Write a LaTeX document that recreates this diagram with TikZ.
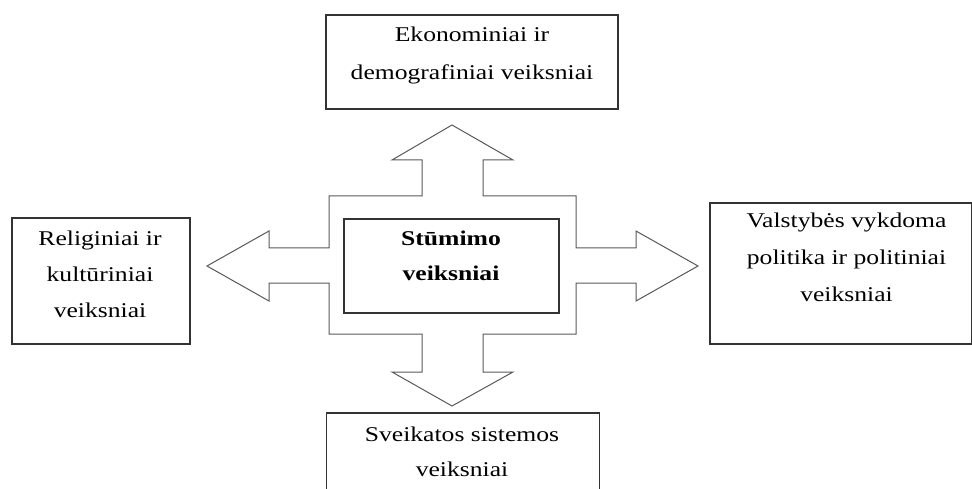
\documentclass[tikz,border=0pt]{standalone}
\usepackage{fontspec}
\setmainfont{Liberation Serif}[FakeStretch=1.22]
\begin{document}
\begin{tikzpicture}[x=1pt,y=-1pt,
  box/.style={draw=black!80,line width=1.4pt,fill=white,inner sep=0pt},
  lbl/.style={align=center,inner sep=0pt,anchor=base,font=\fontsize{21}{37}\selectfont},
  star/.style={draw=black!65,line width=1pt,fill=white,line join=miter}]
\useasboundingbox (0,0) rectangle (972,489);
\clip (0,0) rectangle (972,489);
% cross-shaped arrow
\draw[star] (452,125) -- (513,160) -- (483,160) -- (483,196) -- (576,196) -- (576,248)
  -- (636,248) -- (636,231) -- (698,266) -- (636,301) -- (636,283) -- (576,283)
  -- (576,334) -- (483,334) -- (483,372) -- (513,372) -- (452,406) -- (392,372)
  -- (422,372) -- (422,334) -- (329,334) -- (329,283) -- (269,283) -- (269,301)
  -- (207,266) -- (269,231) -- (269,248) -- (329,248) -- (329,196) -- (422,196)
  -- (422,160) -- (392,160) -- cycle;
% boxes
\node[box,minimum width=215pt,minimum height=94pt] (center) at (451.5,266) {};
\node[box,minimum width=292pt,minimum height=94pt] (top) at (472,62) {};
\node[box,minimum width=178pt,minimum height=126pt] (left) at (101,281) {};
\node[box,minimum width=262pt,minimum height=141pt] (right) at (841,273.5) {};
\node[box,minimum width=273pt,minimum height=120pt] (bottom) at (463,473) {};
% texts (base anchor = baseline of last line)
\node[lbl] (centert) at (451,280) {\textbf{Stūmimo}\\[-2pt]\textbf{veiksniai}};
\node[lbl] (topt) at (472,80) {Ekonominiai ir\\[1pt]demografiniai veiksniai};
\node[lbl] (leftt) at (100,317) {Religiniai ir\\[-1pt]kultūriniai\\[-1pt]veiksniai};
\node[lbl] (rightt) at (846.5,301.7) {Valstybės vykdoma\\politika ir politiniai\\veiksniai};
\node[lbl] (bottomt) at (462,476.7) {Sveikatos sistemos\\[-2pt]veiksniai};
\end{tikzpicture}
\end{document}
